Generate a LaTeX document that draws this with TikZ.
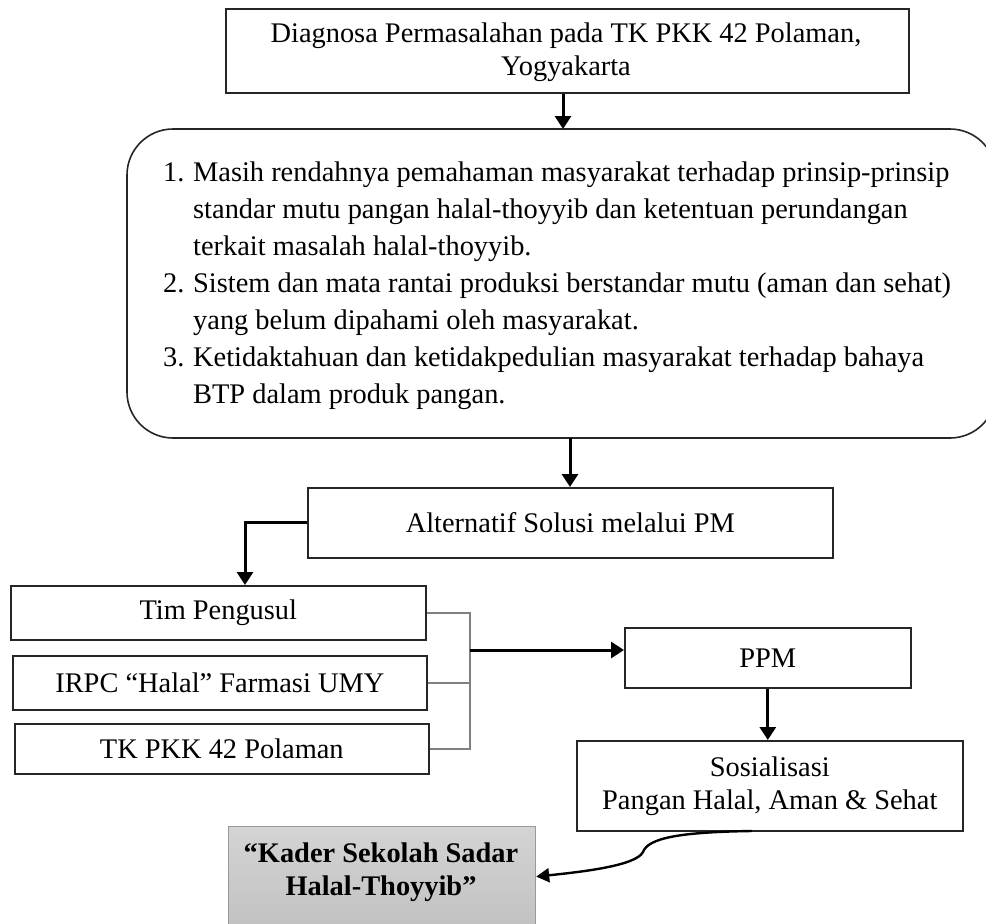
\documentclass[tikz,border=0pt]{standalone}
\usepackage{fontspec}
\setmainfont{Liberation Serif}
\usetikzlibrary{arrows.meta}
\begin{document}
\begin{tikzpicture}[x=1pt,y=-1pt,
  txt/.style={font=\fontsize{28.4}{33}\selectfont},
  box/.style={draw=black!85,line width=1.6pt,inner sep=0pt},
  arr/.style={line width=3pt,-{Triangle[length=13pt,width=16pt]}},
  glink/.style={draw=black!50,line width=2.5pt}]
\useasboundingbox (0,0) rectangle (986,924);
% boxes
\node[box,minimum width=683,minimum height=84,anchor=north west] (diag) at (225,8) {};
\node[txt,align=center] at (566,52) {Diagnosa Permasalahan pada TK PKK 42 Polaman,\\Yogyakarta};
\draw[box,rounded corners=46] (127,129) rectangle (996,438);
\coordinate (rtop) at (563,129);
\coordinate (rbot) at (570,438);
\node[txt,anchor=base west,inner sep=0] (list) at (163,181) {\fontsize{28.4}{37}\selectfont
\begin{tabular}[t]{@{}p{30pt}@{}l@{}}
1. & Masih rendahnya pemahaman masyarakat terhadap prinsip-prinsip\\
   & standar mutu pangan halal-thoyyib dan ketentuan perundangan\\
   & terkait masalah halal-thoyyib.\\
2. & Sistem dan mata rantai produksi berstandar mutu (aman dan sehat)\\
   & yang belum dipahami oleh masyarakat.\\
3. & Ketidaktahuan dan ketidakpedulian masyarakat terhadap bahaya\\
   & BTP dalam produk pangan.
\end{tabular}};
\node[box,txt,minimum width=525,minimum height=70,anchor=north west] (alt) at (307,487) {Alternatif Solusi melalui PM};
\node[box,txt,minimum width=415,minimum height=54,anchor=north west] (tim) at (10,585) {Tim Pengusul};
\node[box,txt,minimum width=414,minimum height=54,anchor=north west] (irpc) at (12,655) {IRPC “Halal” Farmasi UMY};
\node[box,txt,minimum width=414,minimum height=50,anchor=north west] (tk) at (14,723) {TK PKK 42 Polaman};
\node[box,txt,minimum width=286,minimum height=60,anchor=north west] (ppm) at (624,627) {PPM};
\node[box,txt,align=center,minimum width=386,minimum height=90,anchor=north west] (sos) at (576,740) {Sosialisasi\\Pangan Halal, Aman \& Sehat};
\node[draw=black!40,line width=1.2pt,top color=black!17,bottom color=black!24,minimum width=307,minimum height=100,anchor=north west,inner sep=0] (kader) at (228,826) {};
\node[font=\fontsize{28.4}{33}\selectfont\bfseries,align=center] at (381,872) {“Kader Sekolah Sadar\\Halal-Thoyyib”};
% connectors
\draw[arr] (diag.south -| 563,0) -- (rtop);
\draw[arr] (rbot) -- (alt.north -| rbot);
\coordinate (bend) at (245,522);
\draw[arr] (alt.west |- bend) -- (bend) -- (tim.north -| bend);
\coordinate (jx) at (470,650);
\draw[glink] (tim.east) -- (tim.east -| jx) -- (tk.east -| jx) -- (tk.east);
\draw[glink] (irpc.east) -- (irpc.east -| jx);
\draw[arr] (jx) -- (ppm.west |- jx);
\draw[arr] (ppm.south) -- (sos.north -| ppm.south);
\coordinate (cs) at (752,831);
\coordinate (cm) at (643,852);
\draw[line width=2.4pt,-{Triangle[length=13pt,width=14pt]}] (cs) .. controls (680,832) and (648,838) .. (cm) .. controls (636,866) and (580,872) .. (kader.east);
\end{tikzpicture}
\end{document}
